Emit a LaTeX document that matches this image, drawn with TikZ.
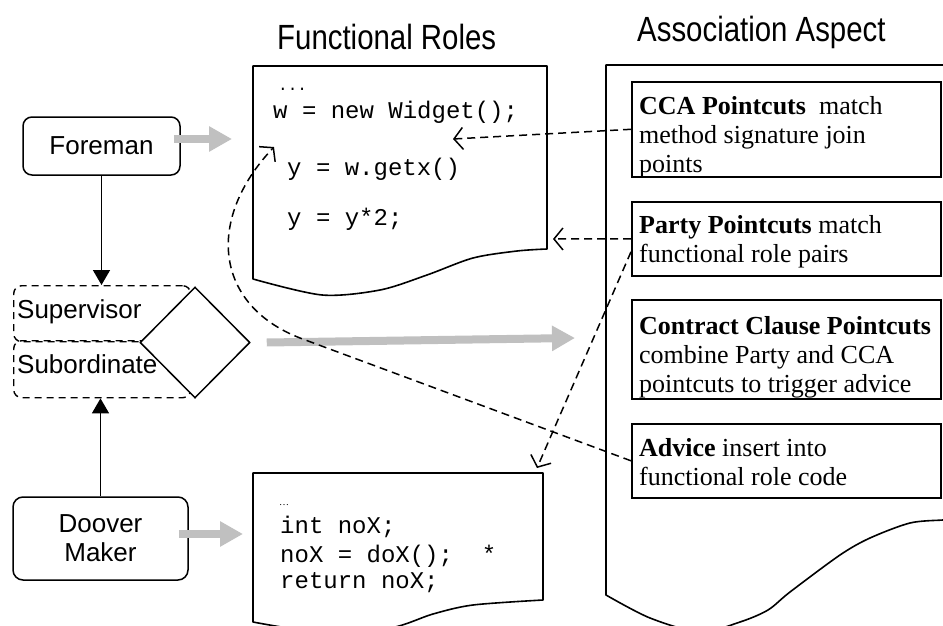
\documentclass[tikz,border=0pt]{standalone}
\usepackage{fontspec}
\setmainfont{Liberation Serif}
\setsansfont{Liberation Sans}
\setmonofont{Liberation Mono}
\newfontfamily\headfont[FakeStretch=0.84]{Liberation Sans}
\usetikzlibrary{arrows.meta,shapes.geometric}
\definecolor{arrowgray}{HTML}{C0C0C0}
\begin{document}
\begin{tikzpicture}[x=1pt,y=-1pt,
  heading/.style={font=\headfont\fontsize{35}{40}\selectfont, anchor=base west, inner sep=0pt},
  rolebox/.style={draw, line width=1.5pt, rounded corners=9pt, font=\sffamily\fontsize{26}{29}\selectfont, align=center, inner sep=0pt},
  partbox/.style={draw, dash pattern=on 7pt off 5pt, line width=1.4pt, rounded corners=8pt, minimum width=177pt, minimum height=56pt, anchor=north west, inner sep=0pt},
  partlabel/.style={font=\sffamily\fontsize{26}{29}\selectfont, anchor=base west, inner sep=0pt},
  page/.style={line width=1.6pt, line join=round},
  code/.style={font=\ttfamily\fontsize{24}{28}\selectfont, anchor=base west, inner sep=0pt},
  pcbox/.style={draw, line width=1.6pt, minimum width=309pt, anchor=north west, inner sep=0pt},
  pctext/.style={font=\fontsize{26}{29}\selectfont, anchor=base west, inner sep=0pt, align=left},
  solidarrow/.style={line width=1.6pt, -{Triangle[length=15pt,width=17pt]}},
  flow/.style={draw=arrowgray, line width=8pt, -{Triangle[length=23pt,width=24pt]}},
  link/.style={line width=1.5pt, dash pattern=on 8pt off 5pt, -{Straight Barb[length=9pt,width=22pt,line width=1.5pt]}},
]
\useasboundingbox (0,0) rectangle (943,626);
\clip (0,0) rectangle (943,626);

% column headings
\node[heading] (fhead) at (277,50) {Functional Roles};
\node[heading] (ahead) at (637,42) {Association Aspect};

% functional role code pages
\draw[page] plot[smooth] coordinates {(547,249) (517,251) (473,258) (427,275) (380,290) (322,295) (253,279)}
  -- (253,66) -- (547,66) -- cycle;
\draw[page] plot[smooth] coordinates {(543,600) (473,605) (433,614) (390,628) (320,632) (253,622)}
  -- (253,473) -- (543,473) -- cycle;

% aspect page
\draw[page] plot[smooth] coordinates {(960,519) (943,520) (910,523) (870,538) (840,555) (790,592) (768,610) (740,622) (700,632) (650,618) (606,595)}
  -- (606,65) -- (960,65);

% code text
\node[code, font=\ttfamily\fontsize{16}{18}\selectfont] (c0) at (278,91) {...};
\node[code] (c1) at (273,118) {w = new Widget();};
\node[code] (c2) at (287,175) {y = w.getx()};
\node[code] (c3) at (287,225) {y = y*2;};

\node[anchor=base west, inner sep=0pt, font=\fontsize{10}{12}\selectfont] (d0) at (279,505) {…};
\node[code] (d1) at (280,533) {int noX;};
\node[code] (d2) at (280,562) {noX = doX();~~*};
\node[code] (d3) at (280,588) {return noX;};

% pointcut boxes
\node[pcbox, minimum height=95pt] (cca) at (631,81) {};
\node[pcbox, minimum height=74pt] (party) at (631,201) {};
\node[pcbox, minimum height=99pt] (contract) at (631,299) {};
\node[pcbox, minimum height=74pt] (advice) at (631,423) {};

% texts are placed by the baseline of their last line
\node[pctext] (ccat) at (639,172) {\textbf{CCA Pointcuts}~\ match\\method signature join\\points};
\node[pctext] (partyt) at (639,262) {\textbf{Party Pointcuts} match\\functional role pairs};
\node[pctext] (contractt) at (639,392) {\textbf{Contract Clause Pointcuts}\\combine Party and CCA\\pointcuts to trigger advice};
\node[pctext] (advicet) at (639,485) {\textbf{Advice} insert into\\functional role code};

% gray flow arrows
\coordinate (fgtip) at (232,139);
\coordinate (dgtip) at (243,534);
\coordinate (rgtip) at (575,338);

% roles
\node[rolebox, minimum width=157pt, minimum height=58pt] (foreman) at (101.5,146) {Foreman};
\node[rolebox, minimum width=175pt, minimum height=83pt, rounded corners=10pt] (doover) at (100.5,538.5) {Doover\\Maker};

\draw[flow] ([xshift=-7pt,yshift=7pt]foreman.east) -- (fgtip);
\draw[flow] ([xshift=-10pt,yshift=4.5pt]doover.east) -- (dgtip);

\node[partbox] (sup) at (13,285) {};
\node[partbox, minimum height=57pt] (sub) at (13,340) {};
\node[draw, diamond, fill=white, line width=1.5pt, minimum width=110pt, minimum height=111pt, inner sep=0pt] (rel) at (195,342.5) {};
\node[partlabel] (supl) at (17,318) {Supervisor};
\node[partlabel] (subl) at (17,373) {Subordinate};

\draw[flow] ([xshift=16pt]rel.east) -- (rgtip);

\draw[solidarrow] (foreman.south) -- (foreman.south |- sup.north);
\draw[solidarrow] (doover.north) -- (doover.north |- sub.south);

% pointcut links
\coordinate (ccatip) at (453,139);
\coordinate (partytip) at (553,239);
\coordinate (noxtip) at (537,468);
\coordinate (advicetip) at (274,147);
\draw[link] (cca.west) -- (ccatip);
\draw[link] (party.west) -- (partytip);
\draw[link] ([yshift=-13pt]party.west) -- (noxtip);
\draw[link] (advice.west) -- (300,338) .. controls (215,305) and (205,220) .. (advicetip);
\end{tikzpicture}
\end{document}
